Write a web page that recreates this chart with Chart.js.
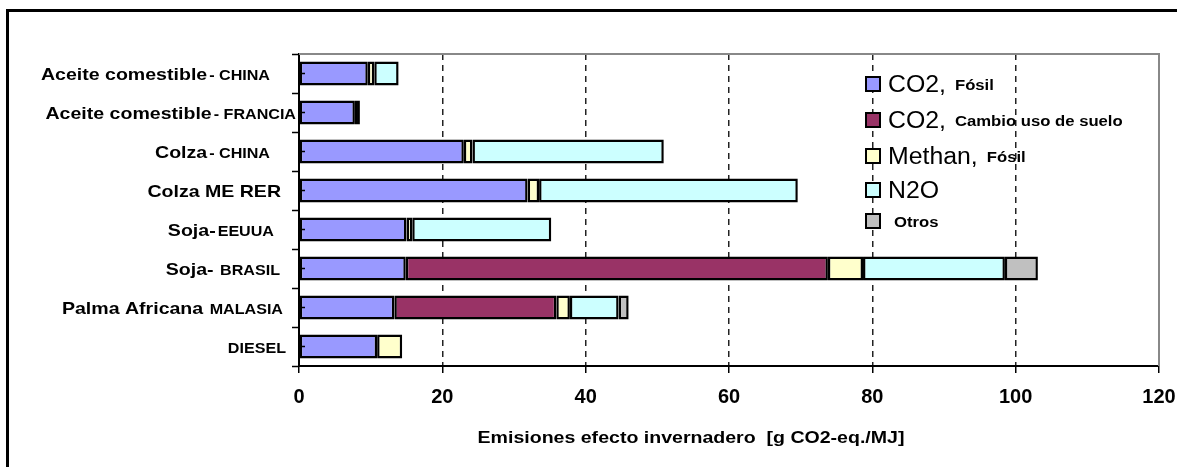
<!DOCTYPE html>
<html>
<head>
<meta charset="utf-8">
<script src="https://cdn.jsdelivr.net/npm/chart.js@4.4.0/dist/chart.umd.min.js"></script>
<style>
  body { margin: 0; background: #fff; }
  canvas { display: block; }
</style>
</head>
<body>
<canvas id="myChart" width="1177" height="467"></canvas>
<script>

// categorias (texto grande + sufijo pequeño)
var categorias = ['Aceite comestible - CHINA', 'Aceite comestible - FRANCIA', 'Colza - CHINA', 'Colza ME RER',
    'Soja-EEUUA', 'Soja- BRASIL', 'Palma Africana MALASIA', 'DIESEL'];
var etiquetas = ['Aceite comestible', 'Aceite comestible', 'Colza', 'Colza ME RER', 'Soja-', 'Soja-', 'Palma Africana', ''];
var sufijos = ['- CHINA', '- FRANCIA', '- CHINA', '', 'EEUUA', ' BRASIL', ' MALASIA', 'DIESEL'];

// g CO2-eq./MJ
var co2Fosil = [9.6, 7.8, 23.0, 31.9, 15.0, 14.9, 13.3, 10.9];
var co2Suelo = [null, null, null, null, null, 58.9, 22.6, null];
var methan = [0.9, 0.7, 1.2, 1.6, 0.8, 4.9, 1.9, 3.5];
var n2o = [3.4, null, 26.7, 36.1, 19.4, 19.8, 6.8, null];
var otros = [null, null, null, null, null, 4.6, 1.4, null];

var leyendaGrande = ['CO2,', 'CO2,', 'Methan,', 'N2O', ''];
var leyendaPeque = ['Fósil', 'Cambio uso de suelo', 'Fósil', '', 'Otros'];
var colores = ['#9999FF', '#993366', '#FFFFCC', '#CCFFFF', '#C0C0C0'];

var ticksX = [0, 20, 40, 60, 80, 100, 120];
var tituloX = 'Emisiones efecto invernadero  [g CO2-eq./MJ]';

var fuente = '"Liberation Sans", Arial, sans-serif';

// texto con estiramiento horizontal (la imagen original esta ensanchada)
function texto(ctx, s, x, y, font, estira, align) {
    ctx.save();
    ctx.font = font;
    var w = ctx.measureText(s).width * estira;
    var x0 = x;
    if (align == 'right') x0 = x - w;
    if (align == 'center') x0 = x - w / 2;
    ctx.translate(x0, y);
    ctx.scale(estira, 1);
    ctx.textAlign = 'left';
    ctx.textBaseline = 'alphabetic';
    ctx.fillStyle = '#000';
    ctx.fillText(s, 0, 0);
    ctx.restore();
    return w;
}

var finEtiqueta = [270, 296, 270, 283, 274, 280, 283, 286];
var filasLeyenda = [84, 120, 156, 190, 221];

var dibujos = {
    id: 'dibujos',
    afterDraw: function (chart) {
        var ctx = chart.ctx;
        var area = chart.chartArea;
        var ys = chart.scales.y;
        var i;

        // marco exterior
        ctx.save();
        ctx.strokeStyle = '#000';
        ctx.lineWidth = 3;
        ctx.beginPath();
        ctx.moveTo(1177, 10.5);
        ctx.lineTo(7.5, 10.5);
        ctx.lineTo(7.5, 467);
        ctx.stroke();

        // borde gris arriba y derecha
        ctx.strokeStyle = '#888';
        ctx.lineWidth = 2;
        ctx.beginPath();
        ctx.moveTo(area.left, area.top);
        ctx.lineTo(area.right, area.top);
        ctx.lineTo(area.right, area.bottom);
        ctx.stroke();

        // marcas interiores en el centro de cada barra
        ctx.strokeStyle = '#000';
        ctx.lineWidth = 1.5;
        for (i = 0; i < categorias.length; i++) {
            var yc = ys.getPixelForValue(i);
            ctx.beginPath();
            ctx.moveTo(area.left, yc);
            ctx.lineTo(area.left + 6, yc);
            ctx.stroke();
        }
        ctx.restore();

        // etiquetas eje y
        for (i = 0; i < categorias.length; i++) {
            var yb = ys.getPixelForValue(i) + 6;
            var w = 0;
            if (sufijos[i]) w = texto(ctx, sufijos[i], finEtiqueta[i], yb, 'bold 14px ' + fuente, 1.15, 'right');
            if (etiquetas[i]) texto(ctx, etiquetas[i], finEtiqueta[i] - w - 2, yb, 'bold 17px ' + fuente, 1.15, 'right');
        }

        // leyenda
        for (i = 0; i < leyendaPeque.length; i++) {
            var yl = filasLeyenda[i];
            ctx.save();
            ctx.fillStyle = colores[i];
            ctx.strokeStyle = '#000';
            ctx.lineWidth = 2;
            ctx.fillRect(866, yl - 7, 14, 14);
            ctx.strokeRect(866, yl - 7, 14, 14);
            ctx.restore();
            var x = 888;
            if (leyendaGrande[i]) {
                x += texto(ctx, leyendaGrande[i], x, yl + 8, '23px ' + fuente, 1.08, 'left') + 9;
            } else {
                x += 6;
            }
            if (leyendaPeque[i]) texto(ctx, leyendaPeque[i], x, yl + 6, 'bold 14.5px ' + fuente, 1.15, 'left');
        }

        // titulo eje x
        texto(ctx, tituloX, 691, 443, 'bold 17px ' + fuente, 1.15, 'center');
    }
};

function serie(nombre, datos, color) {
    return {
        label: nombre,
        data: datos,
        backgroundColor: color,
        borderColor: '#000',
        borderWidth: 2.5,
        borderSkipped: false,
        barPercentage: 0.62,
        categoryPercentage: 1
    };
}

window.onload = function () {

    var ctx = document.getElementById('myChart').getContext('2d');

    var chart = new Chart(ctx, {
        type: 'bar',
        data: {
            labels: categorias,
            datasets: [
                serie('CO2, Fósil', co2Fosil, colores[0]),
                serie('CO2, Cambio uso de suelo', co2Suelo, colores[1]),
                serie('Methan, Fósil', methan, colores[2]),
                serie('N2O', n2o, colores[3]),
                serie('Otros', otros, colores[4])
            ]
        },
        options: {
            indexAxis: 'y',
            responsive: false,
            animation: false,
            devicePixelRatio: 1,
            layout: {
                padding: { left: 0, right: 18, top: 54, bottom: 0 }
            },
            scales: {
                x: {
                    stacked: true,
                    min: 0,
                    max: 120,
                    afterBuildTicks: function (scale) {
                        scale.ticks = ticksX.map(function (v) { return { value: v }; });
                    },
                    afterFit: function (scale) {
                        scale.height = 101;
                        scale.paddingLeft = 0;
                        scale.paddingRight = 0;
                    },
                    ticks: {
                        color: '#000',
                        padding: 12,
                        font: { family: fuente, size: 20, weight: 'bold' }
                    },
                    grid: {
                        color: function (c) {
                            return (c.tick && (c.tick.value == 0 || c.tick.value == 120)) ? 'rgba(0,0,0,0)' : '#222';
                        },
                        lineWidth: 1.5,
                        tickColor: '#000',
                        tickLength: 7,
                        tickBorderDash: [],
                        tickWidth: 1.5
                    },
                    border: { display: true, color: '#000', width: 2, dash: [6, 5] }
                },
                y: {
                    stacked: true,
                    afterFit: function (scale) {
                        scale.width = 299;
                    },
                    ticks: { display: false },
                    grid: {
                        offset: true,
                        drawOnChartArea: false,
                        tickColor: '#000',
                        tickLength: 7,
                        tickWidth: 1.5
                    },
                    border: { display: true, color: '#000', width: 2 }
                }
            },
            plugins: {
                legend: { display: false },
                tooltip: { enabled: false }
            }
        },
        plugins: [dibujos]
    });

};

</script>
</body>
</html>
